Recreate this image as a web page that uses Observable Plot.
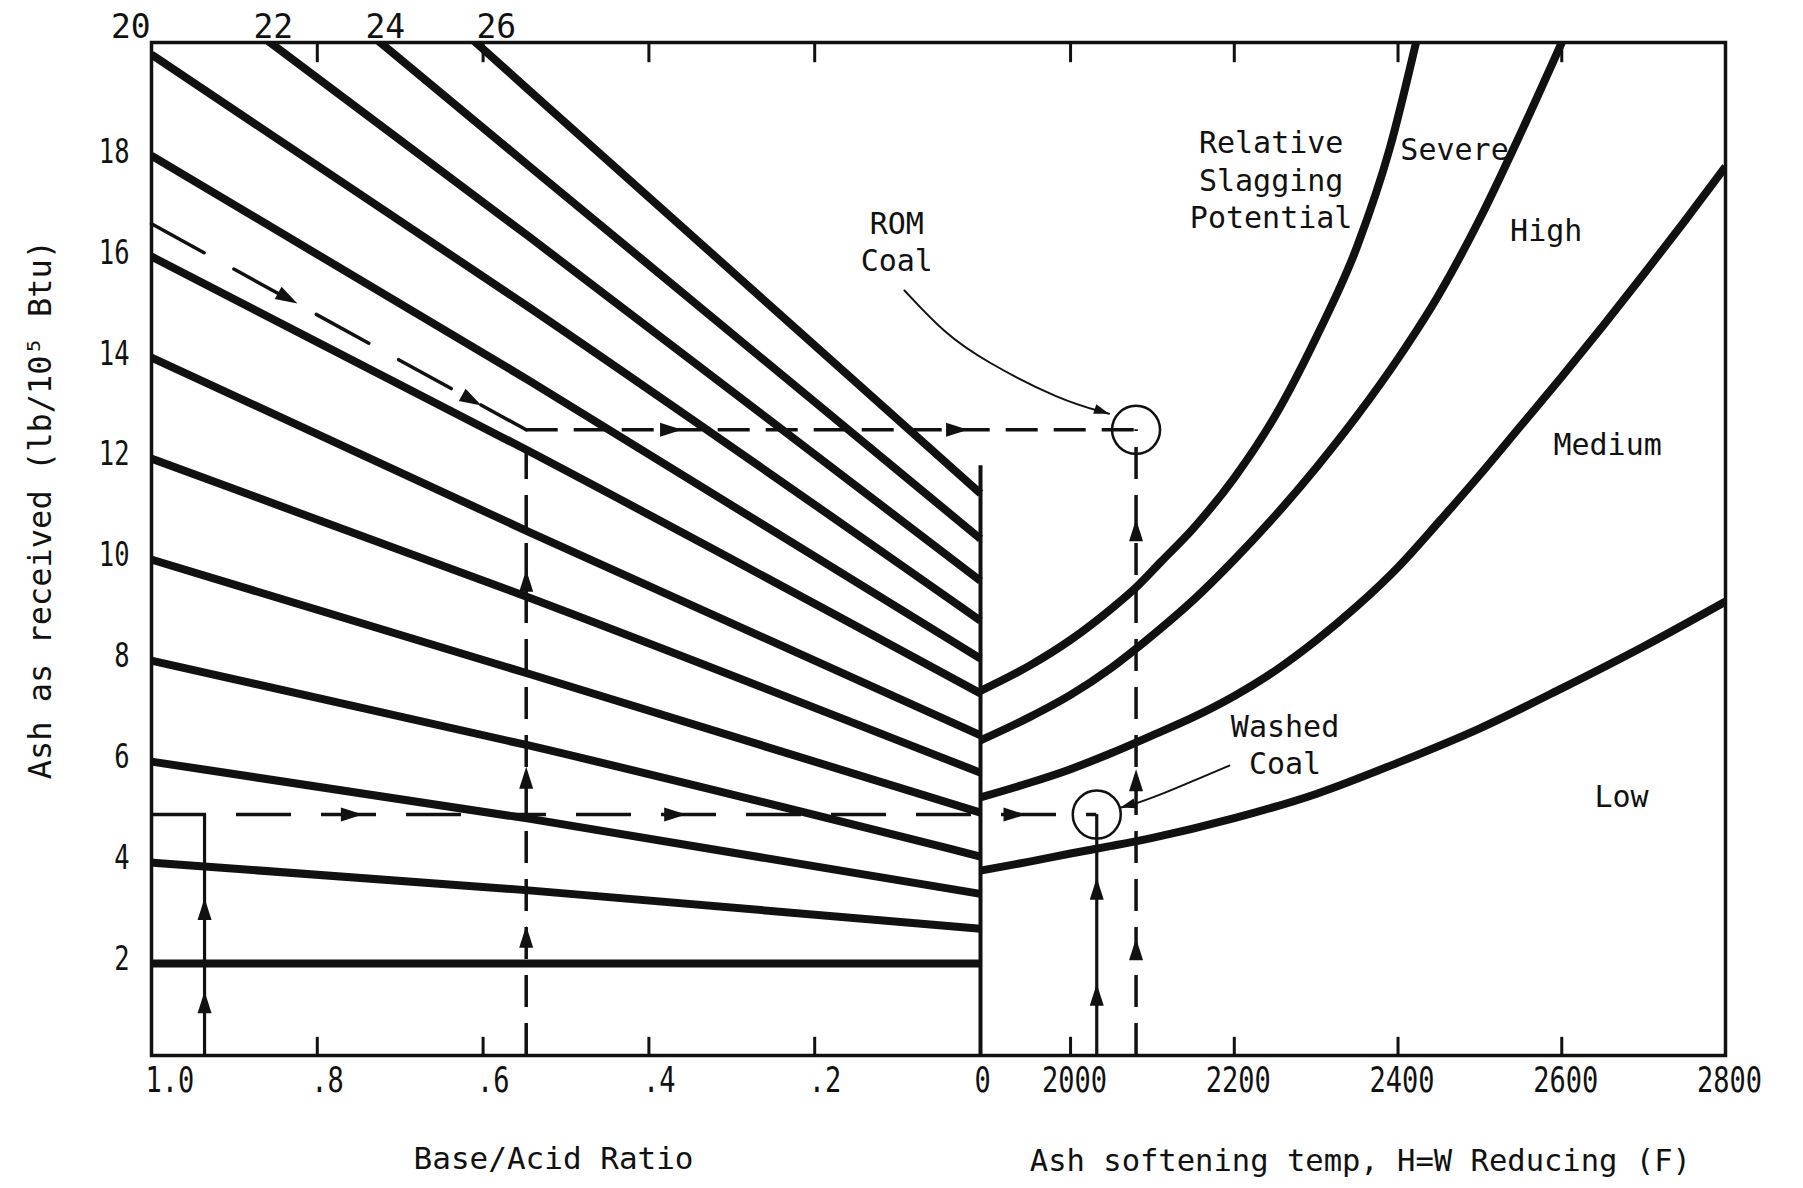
<!DOCTYPE html>
<html>
<head>
<meta charset="utf-8">
<script src="https://cdn.jsdelivr.net/npm/d3@7"></script>
<script src="https://cdn.jsdelivr.net/npm/@observablehq/plot@0.6"></script>
<style>
  html, body { margin: 0; padding: 0; background: #fff; }
  #chart { width: 1803px; height: 1188px; }
</style>
</head>
<body>
<div id="chart"></div>
<script>
// ---------------- data ----------------
// Left panel: ash (lb/10^5 Btu) lines versus Base/Acid ratio
const ashStart = [2, 4, 6, 8, 10, 12, 14, 16, 18, 20, 22, 24, 26];                  // at B/A = 1.0
const ashMid   = [2.0, 3.45, 4.87, 6.32, 7.74, 9.25, 10.55, 12.15, 13.55, 15.0, 16.4, 17.8, 19.3]; // at B/A = 0.545
const ashEnd   = [2.0, 2.69, 3.38, 4.12, 4.99, 5.78, 6.52, 7.35, 8.04, 8.79, 9.58, 10.41, 11.31]; // at B/A = 0
const baPoints = [1.0, 0.545, 0.0];

// Right panel: slagging-potential boundary curves (ash softening temp, F)
const tempA = [1890, 1950, 2000, 2050, 2080, 2110, 2150, 2200, 2250, 2300, 2350, 2390, 2422];
const ashA  = [7.40, 7.90, 8.41, 9.03, 9.45, 9.95, 10.62, 11.62, 12.85, 14.40, 16.20, 18.15, 20.24];
const tempB = [1890, 1950, 2000, 2050, 2100, 2150, 2200, 2250, 2300, 2350, 2400, 2450, 2500, 2550, 2600];
const ashB  = [6.42, 6.88, 7.32, 7.86, 8.50, 9.20, 10.00, 10.87, 11.82, 12.85, 13.98, 15.25, 16.75, 18.45, 20.24];
const tempC = [1890, 1950, 2000, 2050, 2100, 2150, 2200, 2250, 2300, 2350, 2400, 2450, 2500, 2550, 2600, 2650, 2700, 2750, 2800];
const ashC  = [5.29, 5.58, 5.85, 6.17, 6.52, 6.88, 7.30, 7.80, 8.40, 9.08, 9.85, 10.75, 11.68, 12.65, 13.62, 14.62, 15.65, 16.70, 17.78];
const tempD = [1890, 1950, 2000, 2050, 2100, 2200, 2300, 2400, 2500, 2600, 2700, 2800];
const ashD  = [3.84, 4.02, 4.18, 4.33, 4.49, 4.88, 5.36, 5.98, 6.66, 7.45, 8.28, 9.17];

// Worked examples
const romStartAsh = 16.65;            // dashed path start at B/A = 1.0
const romBA = 0.548, romAsh = 12.57, romTemp = 2080;
const washedBA = 0.936, washedAsh = 4.95, washedTemp = 2032;
const romUpLeftAsh = [9.8, 5.9, 2.75];
const romUpRightAsh = [10.8, 5.85, 2.5];
const romRightBA = [0.36, 0.015];
const romDiagArrowBA = [0.824, 0.602];
const romDiagArrowAsh = [15.07, 13.05];
const washedUpLeftAsh = [3.3, 1.45];
const washedUpRightAsh = [3.7, 1.6];
const washedRightBA = [0.745, 0.355];
const washedRightTemp = [1945];

// Leader curves of the annotations (B/A given as negative, temperature as is)
const romLeaderX = [-0.0917, -0.0434, 1894, 1988, 2047];
const romLeaderAsh = [15.33, 14.48, 13.94, 13.15, 12.89];
const washedLeaderX = [2194, 2150, 2108, 2073, 2061];
const washedLeaderAsh = [5.92, 5.62, 5.33, 5.13, 5.09];

// Text
const regionLabels = ["ROM\nCoal", "Relative\nSlagging\nPotential", "Severe", "High", "Medium", "Low", "Washed\nCoal"];
const regionLabelX = [-0.101, 2245, 2469, 2581, 2656, 2673, 2262];
const regionLabelAsh = [16.32, 17.54, 18.16, 16.55, 12.3, 5.33, 6.36];
const lineLabels = ["20", "22", "24", "26"];
const lineLabelBA = [1.025, 0.853, 0.718, 0.584];

const baTicks = [1.0, 0.8, 0.6, 0.4, 0.2, 0];
const baTickLabels = ["1.0", ".8", ".6", ".4", ".2", "0"];
const tempTicks = [2000, 2200, 2400, 2600, 2800];
const tempTickLabels = ["2000", "2200", "2400", "2600", "2800"];
const ashTicks = [2, 4, 6, 8, 10, 12, 14, 16, 18];

const xTitleLeft = "Base/Acid Ratio";
const xTitleRight = "Ash softening temp, H=W Reducing (F)";
const yTitle = "Ash as received (lb/10\u2075 Btu)";

// ---------------- build tables ----------------
const ink = "#111";
const yMin = 0.18, yMax = 20.24;
const bx = (ba) => -ba;   // B/A runs right-to-left on the piecewise x scale

const leftLines = ashStart.flatMap((s, i) =>
  baPoints.map((ba, j) => ({line: s, x: bx(ba), ash: [s, ashMid[i], ashEnd[i]][j]})));
const rightLines = [
  ["A", tempA, ashA], ["B", tempB, ashB], ["C", tempC, ashC], ["D", tempD, ashD]
].flatMap(([id, ts, as]) => ts.map((t, i) => ({curve: id, x: t, ash: as[i]})));

const romDiag = [{x: bx(1.0), ash: romStartAsh}, {x: bx(romBA), ash: romAsh}];
const romLeader = romLeaderX.map((x, i) => ({x, ash: romLeaderAsh[i]}));
const washedLeader = washedLeaderX.map((x, i) => ({x, ash: washedLeaderAsh[i]}));

const upArrows = [
  ...romUpLeftAsh.map(a => ({x: bx(romBA), ash: a})),
  ...romUpRightAsh.map(a => ({x: romTemp, ash: a})),
  ...washedUpLeftAsh.map(a => ({x: bx(washedBA), ash: a})),
  ...washedUpRightAsh.map(a => ({x: washedTemp, ash: a}))
];
const rightArrows = [
  ...romRightBA.map(b => ({x: bx(b), ash: romAsh})),
  ...washedRightBA.map(b => ({x: bx(b), ash: washedAsh})),
  ...washedRightTemp.map(t => ({x: t, ash: washedAsh}))
];
const diagArrows = romDiagArrowBA.map((b, i) => ({x: bx(b), ash: romDiagArrowAsh[i]}));
const labelsTbl = regionLabels.map((t, i) => ({text: t, x: regionLabelX[i], ash: regionLabelAsh[i]}));
const lineLabelTbl = lineLabels.map((t, i) => ({text: t, x: bx(lineLabelBA[i])}));

const baLabelMap = new Map(baTicks.map((b, i) => [bx(b), baTickLabels[i]]));
const tempLabelMap = new Map(tempTicks.map((t, i) => [t, tempTickLabels[i]]));

// arrowhead symbols (tip at the origin, pointing up)
const arrowHead = {draw(ctx) { ctx.moveTo(0, 0); ctx.lineTo(7, 22); ctx.lineTo(-7, 22); ctx.closePath(); }};
const smallHead = {draw(ctx) { ctx.moveTo(0, 0); ctx.lineTo(5, 15); ctx.lineTo(-5, 15); ctx.closePath(); }};

const font = "'DejaVu Sans Mono', 'Liberation Mono', monospace";
const innerTicks = [...baTicks.slice(1, 5).map(bx), ...tempTicks.slice(0, 4)];

const chart = Plot.plot({
  width: 1803,
  height: 1188,
  marginLeft: 151, marginRight: 78, marginTop: 42, marginBottom: 133,
  x: {type: "linear", domain: [-1, 0, 1890, 2800], range: [151, 980, 980, 1725], label: null},
  y: {domain: [yMin, yMax], range: [1055, 42], label: null},
  style: {fontFamily: font, background: "#fff", color: ink, overflow: "visible"},
  marks: [
    // left-panel ash lines
    Plot.line(leftLines, {x: "x", y: "ash", z: "line", curve: "monotone-x", stroke: ink, strokeWidth: 8, strokeLinecap: "butt", clip: true}),
    // right-panel slagging boundaries
    Plot.line(rightLines, {x: "x", y: "ash", z: "curve", curve: "monotone-x", stroke: ink, strokeWidth: 8, strokeLinecap: "butt", clip: true}),
    // middle divider
    Plot.ruleX([0], {y1: yMin, y2: 11.86, stroke: ink, strokeWidth: 4}),
    // inward tick marks, bottom and top
    Plot.ruleX(innerTicks, {y1: yMin, y2: yMin + 0.36, stroke: ink, strokeWidth: 3}),
    Plot.ruleX(innerTicks, {y1: yMax, y2: yMax - 0.4, stroke: ink, strokeWidth: 3}),
    // ROM coal worked example (dashed)
    Plot.line(romDiag, {x: "x", y: "ash", stroke: ink, strokeWidth: 3.5, strokeDasharray: "60,34"}),
    Plot.ruleY([romAsh], {x1: bx(romBA), x2: romTemp, stroke: ink, strokeWidth: 3.5, strokeDasharray: "32,16"}),
    Plot.ruleX([bx(romBA)], {y1: yMin, y2: romAsh, stroke: ink, strokeWidth: 3.5, strokeDasharray: "32,16"}),
    Plot.ruleX([romTemp], {y1: yMin, y2: romAsh, stroke: ink, strokeWidth: 3.5, strokeDasharray: "32,16"}),
    // Washed coal worked example
    Plot.ruleY([washedAsh], {x1: bx(1.0), x2: washedTemp, stroke: ink, strokeWidth: 3.5, strokeDasharray: "55,30"}),
    Plot.ruleX([bx(washedBA)], {y1: yMin, y2: washedAsh, stroke: ink, strokeWidth: 3.2}),
    Plot.ruleX([washedTemp], {y1: yMin, y2: washedAsh, stroke: ink, strokeWidth: 3.2}),
    // arrowheads
    Plot.dot(upArrows, {x: "x", y: "ash", symbol: arrowHead, r: 5, fill: ink, stroke: "none"}),
    Plot.dot(rightArrows, {x: "x", y: "ash", symbol: arrowHead, r: 5, rotate: 90, fill: ink, stroke: "none"}),
    Plot.dot(diagArrows, {x: "x", y: "ash", symbol: arrowHead, r: 5, rotate: 119, fill: ink, stroke: "none"}),
    // circles
    Plot.dot([{x: romTemp, ash: romAsh}, {x: washedTemp, ash: washedAsh}], {x: "x", y: "ash", r: 24, fill: "none", stroke: ink, strokeWidth: 2.5}),
    // leader curves
    Plot.line(romLeader, {x: "x", y: "ash", curve: "basis", stroke: ink, strokeWidth: 2}),
    Plot.line(washedLeader, {x: "x", y: "ash", curve: "basis", stroke: ink, strokeWidth: 2}),
    Plot.dot([romLeader[romLeader.length - 1]], {x: "x", y: "ash", symbol: smallHead, r: 4, rotate: 108, fill: ink, stroke: "none"}),
    Plot.dot([washedLeader[washedLeader.length - 1]], {x: "x", y: "ash", symbol: smallHead, r: 4, rotate: 254, fill: ink, stroke: "none"}),
    // frame
    Plot.frame({stroke: ink, strokeWidth: 3.5}),
    // axes
    Plot.axisX(baTicks.map(bx), {tickSize: 0, tickPadding: 11, tickFormat: d => baLabelMap.get(d), textAnchor: "start", dx: -6, fontSize: 36, fill: ink, label: null}),
    Plot.axisX(tempTicks, {tickSize: 0, tickPadding: 11, tickFormat: d => tempLabelMap.get(d), dx: 4, fontSize: 36, fill: ink, label: null}),
    Plot.axisY(ashTicks, {tickSize: 0, tickPadding: 22, dy: -4, tickFormat: d => `${d}`, fontSize: 34, fill: ink, label: null}),
    // line labels above the frame
    Plot.text(lineLabelTbl, {x: "x", y: () => yMax, text: "text", dy: -15, fontSize: 33, fill: ink, ariaLabel: "line labels"}),
    // region / annotation labels
    Plot.text(labelsTbl, {x: "x", y: "ash", text: "text", fontSize: 30, lineHeight: 1.25, fill: ink}),
    // axis titles
    Plot.text([xTitleLeft], {x: bx(0.515), y: () => yMin, text: d => d, dy: 104, fontSize: 31, fill: ink}),
    Plot.text([xTitleRight], {x: 2354, y: () => yMin, text: d => d, dy: 106, fontSize: 30.5, fill: ink}),
    Plot.text([yTitle], {x: bx(1.0), y: () => 10.99, text: d => d, dx: -111, rotate: -90, fontSize: 32, fill: ink})
  ]
});

// condensed numerals, as in the original typewriter figure
const sx = 0.75;
chart.querySelectorAll('g[aria-label="x-axis tick label"] text, g[aria-label="y-axis tick label"] text, g[aria-label="line labels"] text').forEach(t => {
  const tr = t.getAttribute("transform");
  if (tr) t.setAttribute("transform", tr + ` scale(${sx},1)`);
  else {
    const x = +(t.getAttribute("x") || 0), y = +(t.getAttribute("y") || 0);
    t.removeAttribute("x"); t.removeAttribute("y");
    t.setAttribute("transform", `translate(${x},${y}) scale(${sx},1)`);
  }
});

document.getElementById("chart").appendChild(chart);
</script>
</body>
</html>
